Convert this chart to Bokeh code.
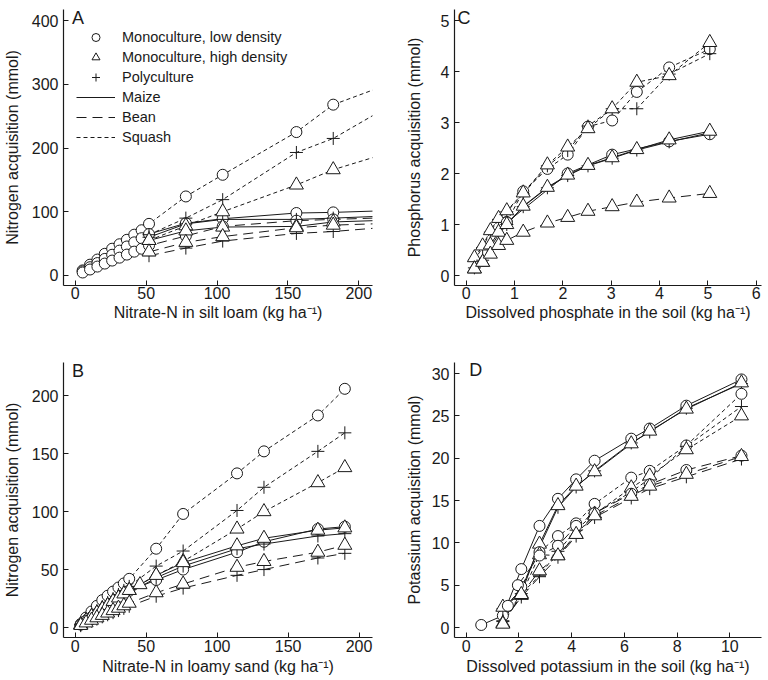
from bokeh.plotting import figure
from bokeh.models import Range1d, Legend, LegendItem, Label, FixedTicker
from bokeh.layouts import column, row
from bokeh.embed import file_html
from bokeh.resources import INLINE

# ---------------- data ----------------
# Panel A: nitrate-N in silt loam
A_x_low = [5.2, 10.4, 15.6, 20.8, 26.0, 31.2, 36.4, 41.6, 46.8]
A_x_high = [52, 78, 104, 156, 182]
A_x_end = 210
A_squash_low = [8, 17, 25, 34, 42, 49, 56, 64, 71, 81, 124, 158, 225, 268]
A_maize_low = [6.5, 13, 19.5, 26, 32.5, 39, 45.5, 52, 58.5, 65, 82, 89, 98, 99]
A_bean_low = [4.7, 9.4, 14, 18.7, 23.4, 28, 32.8, 37.4, 42, 47, 62, 77, 86, 88]
A_squash_high = [55, 78, 100, 142, 166]
A_maize_high = [55, 70, 76, 77, 84]
A_bean_high = [37, 52, 61, 75, 79]
A_squash_poly = [64, 90, 119, 193, 215]
A_maize_poly = [60, 81, 88, 88, 90]
A_bean_poly = [31, 43, 54, 66, 69]
A_end = {"squash_low": 291, "maize_low": 101, "bean_low": 90,
         "squash_high": 185, "maize_high": 86, "bean_high": 81,
         "squash_poly": 251, "maize_poly": 92.5, "bean_poly": 74}

# Panel B: nitrate-N in loamy sand
B_x_low = [3.8, 7.6, 11.4, 15.2, 19.0, 22.8, 26.6, 30.4, 34.2, 38.0]
B_x_high = [57, 76, 114, 133, 171, 190]
B_x_maize_high = [45.6, 57, 76, 114, 133, 171, 190]
B_squash_low = [3, 8.6, 13.8, 18.7, 23.6, 27.4, 31, 34.5, 38, 42, 68, 98, 133, 152, 183, 206]
B_squash_poly = [2.8, 6.8, 10.5, 14.5, 18, 21.5, 25, 28.5, 32, 35.5, 53, 66, 101, 121, 152, 168]
B_squash_high = [2.5, 6, 9.5, 12.5, 16, 19, 22.5, 25.5, 28.5, 32, 45, 57, 85, 100, 125, 138]
B_maize_low = [2.5, 6, 9, 12, 15, 18, 21, 24.5, 28, 31.7, 41, 50, 65, 74, 85, 87]
B_maize_high = [2.5, 6, 9.5, 12.5, 16, 19, 22.5, 25.5, 29, 32, 37, 45, 56, 70.5, 77, 84, 86]
B_maize_poly = [2.3, 5.5, 8.5, 11.5, 14.5, 17.5, 20.5, 23.5, 26.5, 29.5, 43, 53, 68, 72, 79, 81]
B_bean_high = [1.8, 4, 6.3, 8.4, 10.5, 12.5, 14.6, 16.7, 18.8, 21, 30, 37.5, 52, 57, 65, 71]
B_bean_poly = [1.6, 3.6, 5.5, 7.3, 9.2, 11, 12.8, 14.6, 16.5, 18.3, 27, 34, 45, 50, 60, 64]

# Panel C: dissolved phosphate
C_x = [0.17, 0.34, 0.5, 0.67, 0.84, 1.18, 1.68, 2.1, 2.52, 3.02, 3.53, 4.2, 5.04]
C_x_circle = [0.84, 1.18, 1.68, 2.1, 2.52, 3.02, 3.53, 4.2, 5.04]
C_x_maize_circle = [0.84, 2.1, 3.02, 4.2, 5.04]
C_squash_high = [0.35, 0.58, 0.88, 1.12, 1.27, 1.62, 2.17, 2.52, 2.88, 3.27, 3.79, 3.92, 4.57]
C_squash_low = [1.05, 1.65, 2.09, 2.37, 2.92, 3.04, 3.6, 4.08, 4.44]
C_squash_poly = [0.3, 0.55, 0.85, 1.1, 1.25, 1.6, 2.15, 2.45, 2.93, 3.27, 3.27, 3.95, 4.35]
C_maize_high = [0.13, 0.26, 0.6, 0.85, 1.0, 1.36, 1.73, 1.97, 2.16, 2.31, 2.47, 2.66, 2.83]
C_maize_low = [1.04, 2.0, 2.37, 2.63, 2.77]
C_maize_poly = [0.15, 0.3, 0.55, 0.8, 1.0, 1.35, 1.72, 1.96, 2.15, 2.3, 2.46, 2.62, 2.8]
C_bean_high = [0.13, 0.26, 0.42, 0.59, 0.69, 0.85, 1.03, 1.14, 1.26, 1.35, 1.44, 1.52, 1.61]

# Panel D: dissolved potassium
D_x = [1.39, 2.09, 2.78, 3.48, 4.17, 4.87, 6.26, 6.96, 8.35, 10.44]
D_x_maize_low = [0.57, 1.39, 2.09, 2.78, 3.48, 4.17, 4.87, 6.26, 6.96, 8.35, 10.44]
D_x_squash_low = [1.58, 2.09, 2.78, 3.48, 4.17, 4.87, 6.26, 6.96, 8.35, 10.44]
D_x_bean_low = [1.96, 2.78, 3.48, 4.17, 4.87, 6.26, 6.96, 8.35, 10.44]
D_maize_low = [0.3, 1.4, 6.9, 12.0, 15.2, 17.5, 19.7, 22.3, 23.5, 26.2, 29.3]
D_maize_high = [2.4, 4.0, 9.85, 14.4, 16.7, 18.4, 21.7, 23.2, 25.8, 28.9]
D_maize_poly = [2.2, 4.5, 9.5, 14.2, 16.6, 18.5, 21.8, 23.1, 25.9, 28.8]
D_squash_low = [2.56, 4.8, 8.9, 10.8, 12.3, 14.6, 17.7, 18.5, 21.5, 27.6]
D_squash_high = [0.5, 3.8, 8.6, 8.5, 11.0, 13.4, 16.5, 17.9, 21.0, 25.0]
D_squash_poly = [0.8, 4.0, 6.1, 9.0, 11.5, 13.5, 16.0, 17.6, 21.4, 26.1]
D_bean_low = [5.0, 8.5, 9.65, 12.0, 13.5, 15.8, 16.9, 18.6, 20.3]
D_bean_high = [0.4, 3.9, 6.7, 8.47, 11.0, 13.2, 15.5, 16.7, 18.1, 20.2]
D_bean_poly = [0.7, 3.6, 6.0, 8.3, 10.8, 13.0, 15.3, 16.4, 17.8, 19.9]

A_xticks = [0, 50, 100, 150, 200]
A_yticks = [0, 100, 200, 300, 400]
B_xticks = [0, 50, 100, 150, 200]
B_yticks = [0, 50, 100, 150, 200]
C_xticks = [0, 1, 2, 3, 4, 5, 6]
C_yticks = [0, 1, 2, 3, 4, 5]
D_xticks = [0, 2, 4, 6, 8, 10]
D_yticks = [0, 5, 10, 15, 20, 25, 30]

LEGEND_MARKERS = ["Monoculture, low density", "Monoculture, high density", "Polyculture"]
LEGEND_CROPS = ["Maize", "Bean", "Squash"]

# ---------------- styling ----------------
FONT = "Liberation Sans"
INK = "#1a1a1a"
DASH = {"maize": "solid", "bean": "10 6", "squash": "4 3"}
MARKER = {"low": "circle", "high": "triangle", "poly": "cross"}
MSIZE = {"circle": 11, "triangle": 14, "cross": 13}


def make_fig(width, height, xr, yr, borders, xticks, yticks, xlabel, ylabel,
             ylab_standoff, xlab_standoffs):
    left, right, top, bottom = borders
    p = figure(width=width, height=height, x_range=Range1d(*xr), y_range=Range1d(*yr),
               output_backend="svg", toolbar_location=None,
               min_border_left=left, min_border_right=right,
               min_border_top=top, min_border_bottom=bottom)
    p.grid.visible = False
    p.outline_line_color = None
    p.background_fill_color = "white"
    p.border_fill_color = "white"
    p.xaxis.ticker = FixedTicker(ticks=xticks)
    p.yaxis.ticker = FixedTicker(ticks=yticks)
    p.xaxis.axis_label = xlabel
    p.yaxis.axis_label = ylabel
    for ax in (p.xaxis[0], p.yaxis[0]):
        ax.major_tick_in = 5
        ax.major_tick_out = 0
        ax.minor_tick_line_color = None
        ax.axis_line_color = INK
        ax.axis_line_width = 1.2
        ax.major_tick_line_color = INK
        ax.major_label_text_font = FONT
        ax.major_label_text_font_size = "16px"
        ax.major_label_text_color = INK
        ax.axis_label_text_font = FONT
        ax.axis_label_text_font_size = "16px"
        ax.axis_label_text_font_style = "normal"
        ax.axis_label_text_color = INK
    p.xaxis.major_label_standoff = xlab_standoffs[0]
    p.xaxis.axis_label_standoff = xlab_standoffs[1]
    p.yaxis.major_label_standoff = 5
    p.yaxis.axis_label_standoff = ylab_standoff
    return p


def draw(p, series):
    lines = {}
    marks = {}
    for crop, treat, xs, ys, end in series:
        lx = list(xs) + ([end[0]] if end else [])
        ly = list(ys) + ([end[1]] if end else [])
        r = p.line(lx, ly, line_color=INK, line_width=1, line_dash=DASH[crop])
        lines.setdefault(crop, r)
    for crop, treat, xs, ys, end in series:
        m = MARKER[treat]
        r = p.scatter(list(xs), list(ys), marker=m, size=MSIZE[m], fill_color="white",
                      line_color=INK, line_width=1)
        marks.setdefault(treat, r)
    return lines, marks


def letter(p, text, x, y):
    p.add_layout(Label(x=x, y=y, text=text, text_font=FONT, text_font_size="18px",
                       text_color=INK, text_baseline="alphabetic", text_align="left"))


# ---------------- Panel A ----------------
pA = make_fig(384, 330, (-8.33, 209.7), (-15.7, 417.3), (58, 12, 9, 45),
              A_xticks, A_yticks, "Nitrate-N in silt loam (kg ha\u207b\u00b9)",
              "Nitrogen acquisition (mmol)", 8, (1, 2))
A_xl = A_x_low + A_x_high
A_series = [
    ("squash", "low", A_xl, A_squash_low, (A_x_end, A_end["squash_low"])),
    ("maize", "low", A_xl, A_maize_low, (A_x_end, A_end["maize_low"])),
    ("bean", "low", A_xl, A_bean_low, (A_x_end, A_end["bean_low"])),
    ("squash", "poly", A_x_high, A_squash_poly, (A_x_end, A_end["squash_poly"])),
    ("maize", "poly", A_x_high, A_maize_poly, (A_x_end, A_end["maize_poly"])),
    ("bean", "poly", A_x_high, A_bean_poly, (A_x_end, A_end["bean_poly"])),
    ("squash", "high", A_x_high, A_squash_high, (A_x_end, A_end["squash_high"])),
    ("maize", "high", A_x_high, A_maize_high, (A_x_end, A_end["maize_high"])),
    ("bean", "high", A_x_high, A_bean_high, (A_x_end, A_end["bean_high"])),
]
linesA, marksA = draw(pA, A_series)
letter(pA, "A", -2.3, 404.5)
items = [
    LegendItem(label=LEGEND_MARKERS[0], renderers=[marksA["low"]]),
    LegendItem(label=LEGEND_MARKERS[1], renderers=[marksA["high"]]),
    LegendItem(label=LEGEND_MARKERS[2], renderers=[marksA["poly"]]),
    LegendItem(label=LEGEND_CROPS[0], renderers=[linesA["maize"]]),
    LegendItem(label=LEGEND_CROPS[1], renderers=[linesA["bean"]]),
    LegendItem(label=LEGEND_CROPS[2], renderers=[linesA["squash"]]),
]
leg = Legend(items=items, location=(13, 138), glyph_width=39, glyph_height=20,
             label_height=20, label_standoff=7, spacing=0, padding=0, margin=0,
             border_line_color=None, background_fill_color=None,
             label_text_font=FONT, label_text_font_size="14.5px", label_text_color=INK)
pA.add_layout(leg)

# ---------------- Panel C ----------------
pC = make_fig(384, 330, (-0.242, 6.11), (-0.196, 5.216), (70, 7, 9, 45),
              C_xticks, C_yticks, "Dissolved phosphate in the soil (kg ha\u207b\u00b9)",
              "Phosphorus acquisition (mmol)", 15, (1, 2))
C_series = [
    ("squash", "low", C_x_circle, C_squash_low, None),
    ("squash", "poly", C_x, C_squash_poly, None),
    ("squash", "high", C_x, C_squash_high, None),
    ("maize", "low", C_x_maize_circle, C_maize_low, None),
    ("maize", "poly", C_x, C_maize_poly, None),
    ("maize", "high", C_x, C_maize_high, None),
    ("bean", "high", C_x, C_bean_high, None),
]
draw(pC, C_series)
letter(pC, "C", -0.18, 5.04)

# ---------------- Panel B ----------------
pB = make_fig(384, 350, (-8.33, 209.5), (-8.63, 228.7), (58, 12, 32, 43),
              B_xticks, B_yticks, "Nitrate-N in loamy sand (kg ha\u207b\u00b9)",
              "Nitrogen acquisition (mmol)", 8, (2, 3))
B_xl = B_x_low + B_x_high
B_series = [
    ("squash", "low", B_xl, B_squash_low, None),
    ("squash", "poly", B_xl, B_squash_poly, None),
    ("squash", "high", B_xl, B_squash_high, None),
    ("maize", "low", B_xl, B_maize_low, None),
    ("maize", "poly", B_xl, B_maize_poly, None),
    ("maize", "high", B_x_low + B_x_maize_high, B_maize_high, None),
    ("bean", "poly", B_xl, B_bean_poly, None),
    ("bean", "high", B_xl, B_bean_high, None),
]
draw(pB, B_series)
letter(pB, "B", -2.3, 221.6)

# ---------------- Panel D ----------------
pD = make_fig(384, 350, (-0.444, 11.2), (-1.18, 31.3), (70, 7, 32, 43),
              D_xticks, D_yticks, "Dissolved potassium in the soil (kg ha\u207b\u00b9)",
              "Potassium acquisition (mmol)", 6, (2, 3))
D_series = [
    ("maize", "low", D_x_maize_low, D_maize_low, None),
    ("maize", "poly", D_x, D_maize_poly, None),
    ("maize", "high", D_x, D_maize_high, None),
    ("squash", "low", D_x_squash_low, D_squash_low, None),
    ("squash", "poly", D_x, D_squash_poly, None),
    ("squash", "high", D_x, D_squash_high, None),
    ("bean", "low", D_x_bean_low, D_bean_low, None),
    ("bean", "poly", D_x, D_bean_poly, None),
    ("bean", "high", D_x, D_bean_high, None),
]
draw(pD, D_series)
letter(pD, "D", 0.12, 30.44)

layout = column(row(pA, pC, spacing=0), row(pB, pD, spacing=0), spacing=0)
open("out.html", "w").write(file_html(layout, INLINE))
